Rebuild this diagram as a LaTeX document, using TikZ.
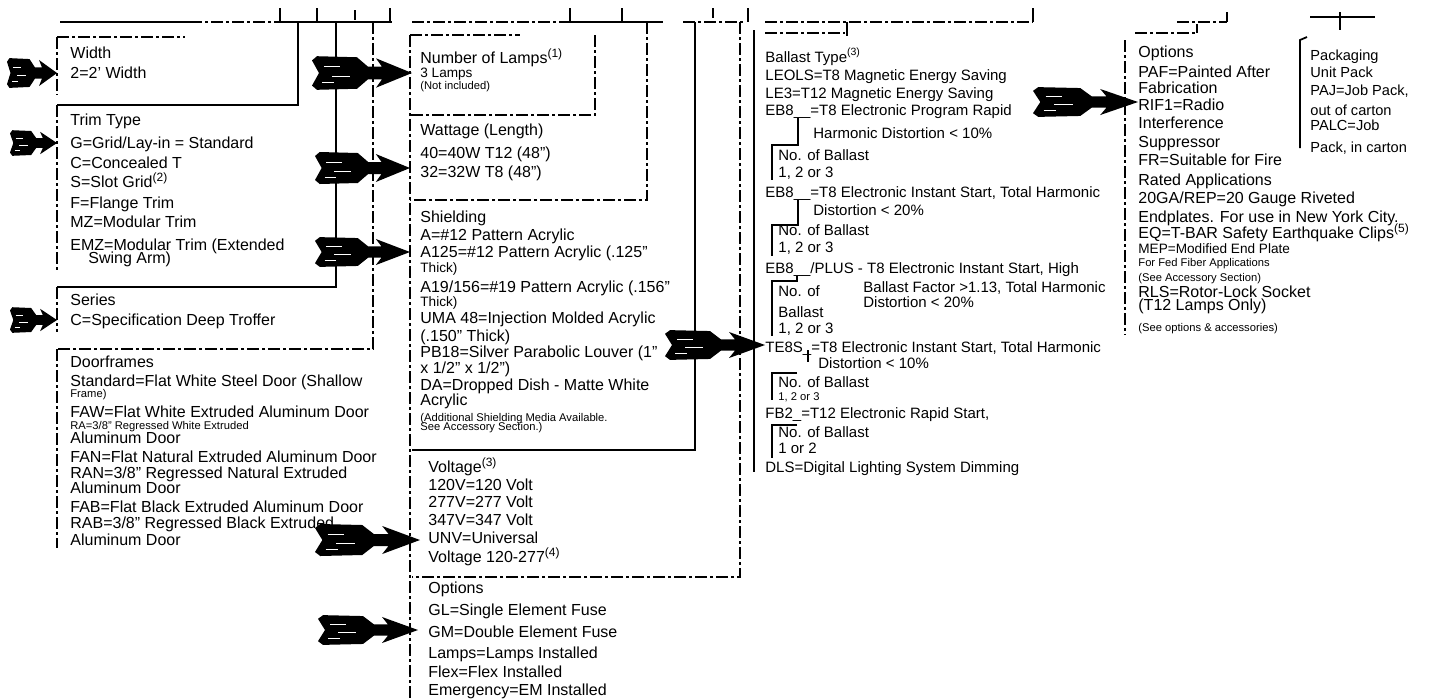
\documentclass[tikz,border=0pt]{standalone}
\usepackage{fontspec}
\setmainfont{Liberation Sans}
\tikzset{
  ln/.style={line width=0.9pt},
  dln/.style={line width=0.9pt, dash pattern=on 6pt off 1.5pt on 1.5pt off 1.5pt},
  tx/.style={anchor=base west, inner sep=0pt, font=\fontsize{8}{9}\selectfont},
  md/.style={anchor=base west, inner sep=0pt, font=\fontsize{6.8}{8}\selectfont},
  pk/.style={anchor=base west, inner sep=0pt, font=\fontsize{7.3}{8}\selectfont},
  sm/.style={anchor=base west, inner sep=0pt, font=\fontsize{5.6}{6}\selectfont},
  bt/.style={anchor=base west, inner sep=0pt, font=\fontsize{7.5}{9}\selectfont},
  fatarrow/.pic={
    \fill[black] (-100,-12) -- (-95,-16) -- (-55,-15) -- (-44,-6) -- (-30,-6) -- (-36,-14) -- (0,0)
      -- (-36,14) -- (-30,6) -- (-44,6) -- (-55,15) -- (-95,16) -- (-100,12) -- (-93,0) -- cycle;
    \draw[white, line width=0.5pt] (-88,-6) -- (-72,-6) (-80,3) -- (-62,3) (-90,9) -- (-78,9);
  }
}
\begin{document}
\begin{tikzpicture}[x=0.5pt,y=-0.5pt]
\useasboundingbox (0,0) rectangle (1434,698);

% ---------- top ordering line and ticks ----------
\draw[ln] (60,22) -- (190,22);
\draw[dln] (190,22) -- (280,22);
\draw[ln] (280,22) -- (392,22);
\draw[dln] (412,22) -- (560,22);
\draw[ln] (560,22) -- (663,22);
\draw[dln] (683,22) -- (745,22);
\draw[dln] (765,22) -- (1033,22);
\draw[dln] (1177,22) -- (1227,22);
\draw[ln] (1310,17) -- (1375,17);
\foreach \xv in {280,317,390,570,622,748,1033} \draw[ln] (\xv,8) -- (\xv,22);
\draw[ln] (355,10) -- (355,20);
\draw[ln] (713,8) -- (713,18);
\draw[ln] (1227,12) -- (1227,22);
\draw[ln] (1340,12) -- (1340,30);

% ---------- connectors / box brackets, left column ----------
\draw[dln] (57,37) -- (185,37);
\draw[dln] (57,37) -- (57,95);
\draw[ln] (298,22) |- (57,105);
\draw[dln] (57,105) -- (57,270);
\draw[ln] (336,22) |- (57,287);
\draw[dln] (57,287) -- (57,332);
\draw[dln] (373,22) |- (57,349);
\draw[dln] (57,349) -- (57,548);

% ---------- middle column ----------
\draw[dln] (410,35) -- (520,35);
\draw[dln] (595,35) -- (595,115) -- (408,115);
\draw[dln] (410,35) -- (410,698);
\draw[dln] (647,22) |- (410,200);
\draw[ln] (695,22) |- (412,450);
\draw[dln] (740,22) |- (412,577);

% ---------- ballast column ----------
\draw[ln] (754,30) -- (754,472);
\draw[dln] (765,33) -- (845,33);
\draw[ln] (847,22) -- (847,36);
\draw[ln] (798,118) |- (772,145) -- (772,180);
\draw[ln] (798,200) |- (772,225) -- (772,256);
\draw[ln] (797,276) |- (772,281) -- (772,336);
\draw[ln] (808,350) -- (808,362);
\draw[ln] (797,373) -| (772,400);
\draw[ln] (797,425) -| (772,458);

% ---------- right columns ----------
\draw[dln] (1135,33) -- (1197,33);
\draw[ln] (1197,33) -- (1197,24);
\draw[dln] (1125,40) -- (1125,335);
\draw[ln] (1307,37) -- (1300,40) -- (1300,148);

% ---------- texts, left column ----------
\foreach \yv/\lab [count=\i] in {
  58/{Width}, 78/{2=2' Width}, 125/{Trim Type}, 148/{G=Grid/Lay-in = Standard},
  168/{C=Concealed T}, 187/{S=Slot Grid\textsuperscript{(2)}}, 208/{F=Flange Trim},
  227/{MZ=Modular Trim}, 250/{EMZ=Modular Trim (Extended}, 305/{Series},
  325/{C=Specification Deep Troffer}, 367/{Doorframes},
  386/{Standard=Flat White Steel Door (Shallow},
  417/{FAW=Flat White Extruded Aluminum Door}, 443/{Aluminum Door},
  462/{FAN=Flat Natural Extruded Aluminum Door},
  478/{RAN=3/8" Regressed Natural Extruded}, 493/{Aluminum Door},
  512/{FAB=Flat Black Extruded Aluminum Door},
  528/{RAB=3/8" Regressed Black Extruded}, 545/{Aluminum Door}}
  \node[tx] (L\i) at (70,\yv) {\lab};
\node[tx] (Lsw) at (88,263) {Swing Arm)};
\node[sm] (Lfr) at (70,397) {Frame)};
\node[sm] (Lra) at (70,429) {RA=3/8" Regressed White Extruded};

% ---------- texts, middle column ----------
\foreach \yv/\lab [count=\i] in {
  63/{Number of Lamps\textsuperscript{(1)}}, 135/{Wattage (Length)},
  158/{40=40W T12 (48")}, 177/{32=32W T8 (48")}, 222/{Shielding},
  240/{A=\#12 Pattern Acrylic}, 257/{A125=\#12 Pattern Acrylic (.125"},
  292/{A19/156=\#19 Pattern Acrylic (.156"}, 323/{UMA 48=Injection Molded Acrylic},
  341/{(.150" Thick)}, 357/{PB18=Silver Parabolic Louver (1"},
  373/{x 1/2" x 1/2")}, 390/{DA=Dropped Dish - Matte White}, 405/{Acrylic}}
  \node[tx] (M\i) at (420,\yv) {\lab};
\foreach \yv/\lab [count=\i] in {77/{3 Lamps}, 272/{Thick)}, 306/{Thick)}}
  \node[md] (Mm\i) at (420,\yv) {\lab};
\foreach \yv/\lab [count=\i] in {89/{(Not included)},
  421/{(Additional Shielding Media Available.}, 430/{See Accessory Section.)}}
  \node[sm] (Ms\i) at (420,\yv) {\lab};
\foreach \yv/\lab [count=\i] in {
  472/{Voltage\textsuperscript{(3)}}, 490/{120V=120 Volt}, 507/{277V=277 Volt},
  525/{347V=347 Volt}, 543/{UNV=Universal}, 562/{Voltage 120-277\textsuperscript{(4)}},
  593/{Options}, 615/{GL=Single Element Fuse}, 637/{GM=Double Element Fuse},
  658/{Lamps=Lamps Installed}, 677/{Flex=Flex Installed}, 695/{Emergency=EM Installed}}
  \node[tx] (V\i) at (428,\yv) {\lab};

% ---------- texts, ballast column ----------
\foreach \yv/\lab [count=\i] in {
  62/{Ballast Type\textsuperscript{(3)}}, 80/{LEOLS=T8 Magnetic Energy Saving},
  98/{LE3=T12 Magnetic Energy Saving},
  115/{EB8\_\_=T8 Electronic Program Rapid},
  197/{EB8\_\_=T8 Electronic Instant Start, Total Harmonic},
  273/{EB8\_\_/PLUS - T8 Electronic Instant Start, High},
  352/{TE8S\_=T8 Electronic Instant Start, Total Harmonic},
  418/{FB2\_=T12 Electronic Rapid Start,},
  472/{DLS=Digital Lighting System Dimming}}
  \node[bt] (B\i) at (765,\yv) {\lab};
\node[bt] (Bh1) at (813,138) {Harmonic Distortion < 10\%};
\node[bt] (Bh2) at (813,215) {Distortion < 20\%};
\node[bt] (Bh3) at (863,292) {Ballast Factor >1.13, Total Harmonic};
\node[bt] (Bh4) at (863,307) {Distortion < 20\%};
\node[bt] (Bh5) at (818,368) {Distortion < 10\%};
\foreach \yv/\lab [count=\i] in {
  160/{No. of Ballast}, 177/{1, 2 or 3}, 235/{No. of Ballast}, 252/{1, 2 or 3},
  296/{No. of}, 317/{Ballast}, 333/{1, 2 or 3}, 387/{No. of Ballast},
  437/{No. of Ballast}, 453/{1 or 2}}
  \node[bt] (Bn\i) at (778,\yv) {\lab};
\node[sm] (Bs) at (778,400) {1, 2 or 3};

% ---------- texts, options and packaging ----------
\foreach \yv/\lab [count=\i] in {
  57/{Options}, 77/{PAF=Painted After}, 93/{Fabrication}, 110/{RIF1=Radio},
  128/{Interference}, 147/{Suppressor}, 165/{FR=Suitable for Fire},
  185/{Rated Applications}, 203/{20GA/REP=20 Gauge Riveted},
  222/{Endplates. For use in New York City.},
  238/{EQ=T-BAR Safety Earthquake Clips\textsuperscript{(5)}},
  297/{RLS=Rotor-Lock Socket}, 310/{(T12 Lamps Only)}}
  \node[tx] (O\i) at (1138,\yv) {\lab};
\node[md] (Om) at (1138,253) {MEP=Modified End Plate};
\foreach \yv/\lab [count=\i] in {
  266/{For Fed Fiber Applications}, 281/{(See Accessory Section)},
  331/{(See options \& accessories)}}
  \node[sm] (Os\i) at (1138,\yv) {\lab};
\foreach \yv/\lab [count=\i] in {
  60/{Packaging}, 77/{Unit Pack}, 95/{PAJ=Job Pack,}, 115/{out of carton},
  130/{PALC=Job}, 152/{Pack, in carton}}
  \node[pk] (P\i) at (1310,\yv) {\lab};

% ---------- pointer arrows ----------
\pic[xscale=0.50, yscale=0.93] (a1) at (57,73) {fatarrow};
\pic[xscale=0.47, yscale=0.80] (a2) at (57,143) {fatarrow};
\pic[xscale=0.47, yscale=0.80] (a3) at (57,320) {fatarrow};
\pic[xscale=1.00, yscale=1.05] (a4) at (412,73) {fatarrow};
\pic[xscale=0.95, yscale=1.00] (a5) at (410,168) {fatarrow};
\pic[xscale=0.95, yscale=0.93] (a6) at (410,252) {fatarrow};
\pic[xscale=1.05, yscale=1.00] (a7) at (420,540) {fatarrow};
\pic[xscale=1.00, yscale=0.93] (a8) at (418,630) {fatarrow};
\pic[xscale=1.00, yscale=0.93] (a9) at (765,345) {fatarrow};
\pic[xscale=1.05, yscale=0.93] (a10) at (1138,102) {fatarrow};
\end{tikzpicture}
\end{document}
